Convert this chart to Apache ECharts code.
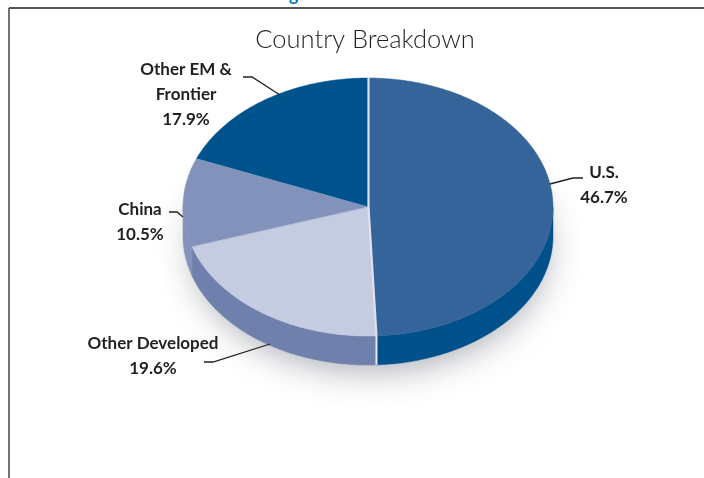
<!DOCTYPE html>
<html>
<head>
<meta charset="utf-8">
<style>
html, body { margin: 0; padding: 0; background: #fff; }
#main { width: 704px; height: 478px; }
</style>
<script src="https://cdn.jsdelivr.net/npm/echarts@6/dist/echarts.min.js"></script>
</head>
<body>
<div id="main"></div>
<script>
// ==================== data ====================
const categories = ['U.S.', 'Other Developed', 'China', 'Other EM & Frontier'];
const shares = [46.7, 19.6, 10.5, 17.9];

// ==================== styles ====================
const topColors = ['#34649a', '#c5cbe0', '#8392ba', '#00528c'];
const sideColors = ['#00508c', '#6e80ab', '#8493bb', '#00528c'];
const labelLines = [['U.S.', '46.7%'], ['Other Developed', '19.6%'], ['China', '10.5%'], ['Other EM &', 'Frontier', '17.9%']];
const labelCenters = [[604, 185], [153, 356], [140, 222], [186, 95]];
const leaders = [
    [[583, 178], [573, 178], [550, 184]],
    [[204, 362], [213, 362], [270, 344]],
    [[169, 212], [177, 212], [183, 217]],
    [[243, 77], [252, 77], [280, 95]]
];

const CX = 368, CY = 207, RX = 185, RY = 129, DEPTH = 29;
const FONT = 'Lato, sans-serif';
const total = shares.reduce((a, b) => a + b, 0);

// clockwise from 12 o'clock, in radians
function sliceAngles(idx) {
    let acc = 0;
    for (let i = 0; i < idx; i++) acc += shares[i];
    return [acc / total * Math.PI * 2, (acc + shares[idx]) / total * Math.PI * 2];
}

function rimPoint(a, dy) {
    return [CX + RX * Math.sin(a), CY + dy - RY * Math.cos(a)];
}

function arcPoints(a0, a1, dy) {
    const n = Math.max(2, Math.ceil((a1 - a0) * 80));
    const pts = [];
    for (let i = 0; i <= n; i++) pts.push(rimPoint(a0 + (a1 - a0) * i / n, dy));
    return pts;
}

const seriesData = categories.map((name, i) => ({ name, value: shares[i] }));

function renderShadow(params, api) {
    return {
        type: 'ellipse',
        shape: { cx: CX + 2, cy: CY + DEPTH + 2, rx: RX - 8, ry: RY - 6 },
        style: { fill: '#fff', shadowBlur: 34, shadowColor: 'rgba(70,75,90,0.45)', shadowOffsetY: 10 }
    };
}

// visible outer wall, only the lower half of the rim
function renderSide(params, api) {
    const i = params.dataIndex;
    const [a0, a1] = sliceAngles(i);
    const lo = Math.max(a0, Math.PI / 2), hi = Math.min(a1, Math.PI * 1.5);
    if (hi <= lo) return null;
    const pts = arcPoints(lo, hi, 0).concat(arcPoints(lo, hi, DEPTH).reverse());
    return { type: 'polygon', shape: { points: pts }, style: { fill: sideColors[i], stroke: sideColors[i], lineWidth: 0.5 } };
}

function renderTop(params, api) {
    const i = params.dataIndex;
    const [a0, a1] = sliceAngles(i);
    const pts = [[CX, CY]].concat(arcPoints(a0, a1, 0));
    return { type: 'polygon', shape: { points: pts }, style: { fill: topColors[i], stroke: topColors[i], lineWidth: 0.5 } };
}

// light divider at the start of each slice, carried down the wall where it shows
function renderDivider(params, api) {
    const i = params.dataIndex;
    const a0 = sliceAngles(i)[0];
    const p = rimPoint(a0, 0);
    const wide = i === 0 || i === 1;
    const children = [{
        type: 'line',
        shape: { x1: CX + (wide ? 0.5 : 0), y1: CY, x2: p[0] + (wide ? 0.5 : 0), y2: p[1] },
        style: { stroke: i === 0 ? '#dfe3ee' : i === 1 ? '#dfe1ea' : '#cdd3e6', lineWidth: wide ? 2.2 : 0.5 }
    }];
    if (i === 1) {
        const q = rimPoint(a0, DEPTH);
        children.push({ type: 'line', shape: { x1: p[0] + 0.5, y1: p[1], x2: q[0] + 0.5, y2: q[1] }, style: { stroke: '#e8e9ef', lineWidth: 2 } });
    }
    return { type: 'group', children };
}

function renderLabel(params, api) {
    const i = params.dataIndex;
    const lines = labelLines[i];
    return {
        type: 'group',
        children: [
            {
                type: 'polyline',
                shape: { points: leaders[i] },
                style: { fill: 'none', stroke: '#231f20', lineWidth: 1.3 }
            },
            {
                type: 'text',
                x: labelCenters[i][0],
                y: labelCenters[i][1],
                style: {
                    text: lines.join('\n'),
                    fill: '#231f20',
                    font: '700 17px ' + FONT,
                    lineHeight: 25,
                    align: 'center',
                    verticalAlign: 'middle'
                }
            }
        ]
    };
}

function customSeries(renderItem, z) {
    return { type: 'custom', coordinateSystem: 'none', silent: true, z, data: seriesData, renderItem };
}

const chart = echarts.init(document.getElementById('main'), null, { renderer: 'canvas' });
chart.setOption({
    animation: false,
    backgroundColor: '#fff',
    title: {
        text: 'Country Breakdown',
        left: 360,
        top: 22,
        textAlign: 'center',
        textStyle: { fontFamily: FONT, fontWeight: 300, fontSize: 25.5, color: '#231f20' }
    },
    graphic: [
        { type: 'line', shape: { x1: 9, y1: 8, x2: 704, y2: 8 }, style: { stroke: '#555', lineWidth: 2 } },
        { type: 'line', shape: { x1: 9, y1: 8, x2: 9, y2: 478 }, style: { stroke: '#444', lineWidth: 1.5 } },
        { type: 'text', x: 289, y: -14, style: { text: 'g', fill: '#0a7cc0', font: '700 18px ' + FONT } }
    ],
    series: [
        {
            type: 'custom', coordinateSystem: 'none', silent: true, z: 1,
            data: [seriesData[0]], renderItem: renderShadow
        },
        customSeries(renderSide, 2),
        customSeries(renderTop, 3),
        customSeries(renderDivider, 4),
        customSeries(renderLabel, 5)
    ]
});
</script>
</body>
</html>
